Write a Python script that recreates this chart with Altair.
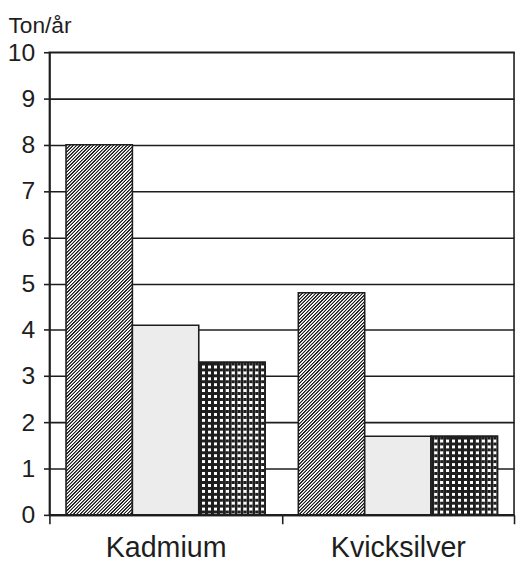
import altair as alt
import pandas as pd

# ---- data ----
categories = ["Kadmium", "Kvicksilver"]
series = ["A", "B", "C"]
values_A = [8.0, 4.8]
values_B = [4.1, 1.7]
values_C = [3.3, 1.7]
y_ticks = [0, 1, 2, 3, 4, 5, 6, 7, 8, 9, 10]
y_title = "Ton/år"

series_values = {"A": values_A, "B": values_B, "C": values_C}
rows = []
for i, c in enumerate(categories):
    for s in series:
        rows.append({"cat": c, "s": s, "v": series_values[s][i]})
df = pd.DataFrame(rows)

# ---- layout / style ----
W, H = 471, 469
YMAX = 10
PAD_OUTER = 0.25
BAR_W = (W / len(categories)) / (len(series) + 2 * PAD_OUTER)
INK = "#1e1e1e"
FONT = "Liberation Sans"


def periodic_stops(n, pattern):
    stops = []
    for k in range(int(n) + 1):
        for t, col in pattern:
            off = (k + t) / n
            if off > 1:
                off = 1.0
            stops.append({"offset": round(off, 6), "color": col})
            if off >= 1:
                return stops
    return stops


def hatch(w, h, period=3.4):
    c = (w + h) / (w * w + h * h)
    n = (w + h) / period
    pat = [(0.0, "#ffffff"), (0.2, INK), (0.5, INK), (0.7, "#ffffff")]
    return {"gradient": "linear", "x1": 0, "y1": 0, "x2": c * w, "y2": c * h,
            "stops": periodic_stops(n, pat)}


def hlines(h, period=6.0):
    n = h / period
    pat = [(0.0, "#ffffff"), (0.12, INK), (0.5, INK), (0.62, "#ffffff")]
    return {"gradient": "linear", "x1": 0, "y1": 0, "x2": 0, "y2": 1,
            "stops": periodic_stops(n, pat)}


def vlines(w, period=6.0):
    n = w / period
    clear = "rgba(255,255,255,0)"
    pat = [(0.0, clear), (0.12, INK), (0.5, INK), (0.62, clear)]
    return {"gradient": "linear", "x1": 0, "y1": 0, "x2": 1, "y2": 0,
            "stops": periodic_stops(n, pat)}


STIPPLE = "#ececec"

x_enc = alt.X(
    "cat:N", sort=categories,
    scale=alt.Scale(domain=categories, paddingInner=0, paddingOuter=0),
    axis=alt.Axis(title=None, labelAngle=0, labelFontSize=29, labelFont=FONT,
                  labelColor=INK, tickBand="extent", tickSize=9, tickWidth=1.6,
                  tickColor=INK, domainColor=INK, domainWidth=1.8,
                  labelPadding=10, grid=False),
)
xo_enc = alt.XOffset(
    "s:N", sort=series,
    scale=alt.Scale(domain=series, paddingInner=0, paddingOuter=PAD_OUTER),
)
y_enc = alt.Y(
    "v:Q",
    scale=alt.Scale(domain=[0, YMAX], nice=False, zero=True),
    axis=alt.Axis(values=y_ticks, title=y_title, titleAngle=0,
                  titleAlign="left", titleBaseline="alphabetic",
                  titleX=-42, titleY=-20, titleFontSize=23,
                  titleFontWeight="normal", titleFont=FONT, titleColor=INK,
                  labelFontSize=25, labelFont=FONT, labelColor=INK,
                  labelFlush=False, labelOverlap=False,
                  tickSize=6, tickWidth=1.6, tickColor=INK, labelPadding=9,
                  grid=True, gridColor=INK, gridWidth=1.6,
                  domainColor=INK, domainWidth=1.8),
)

base = alt.Chart(df).encode(x=x_enc, xOffset=xo_enc, y=y_enc)

layers = []
for i, c in enumerate(categories):
    for s in series:
        v = series_values[s][i]
        h = v * H / YMAX
        if s == "A":
            fill = hatch(BAR_W, h)
        elif s == "B":
            fill = STIPPLE
        else:
            fill = hlines(h)
        layers.append(
            base.transform_filter((alt.datum.cat == c) & (alt.datum.s == s))
            .mark_bar(fill=fill, stroke=INK, strokeWidth=1.6)
        )
layers.append(
    base.transform_filter(alt.datum.s == "C")
    .mark_bar(fill=vlines(BAR_W), stroke=INK, strokeWidth=1.6)
)

chart = (
    alt.layer(*layers)
    .properties(width=W, height=H, autosize=alt.AutoSizeParams(type="none"),
                padding={"left": 42, "top": 41, "right": 2, "bottom": 50})
    .configure_view(stroke=INK, strokeWidth=1.6)
)

chart.save("out.html", embed_options={"renderer": "svg", "actions": False})
